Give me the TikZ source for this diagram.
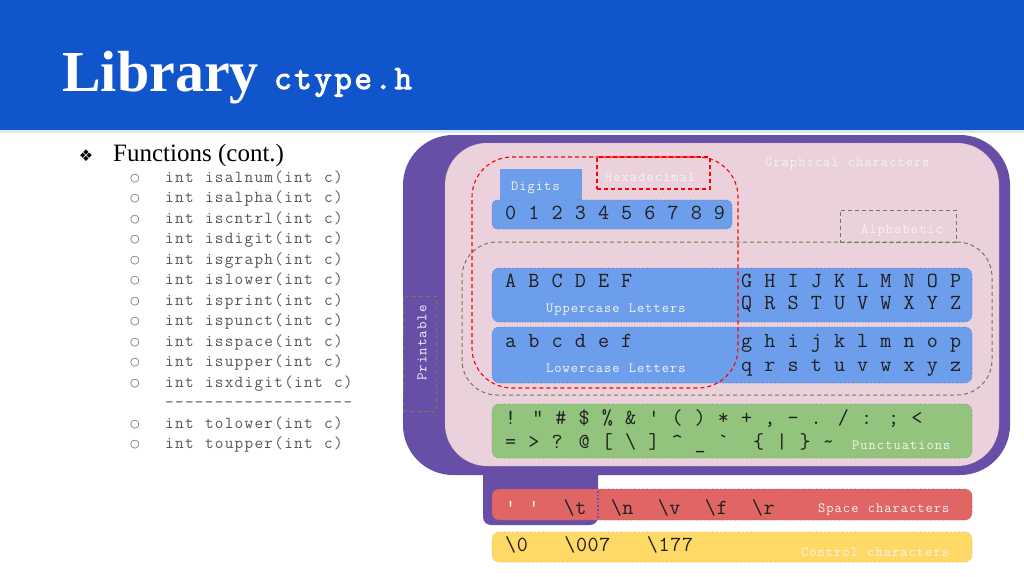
\documentclass[tikz,border=0pt]{standalone}
\usepackage{fontspec}
\setmainfont{Liberation Serif}
\newfontfamily\cour[LetterSpace=7.5,WordSpace={1.1429,0,0}]{Latin Modern Mono}
\newfontfamily\courbig[LetterSpace=2.92,WordSpace={1.0366,0,0}]{Latin Modern Mono}
\newfontfamily\courbf[LetterSpace=7.5,WordSpace={1.1429,0,0},FakeBold=3]{Latin Modern Mono}
\newfontfamily\dejavu{DejaVu Sans}
\definecolor{hdr}{HTML}{1155CC}
\definecolor{hdrline}{HTML}{DCE6F5}
\definecolor{purp}{HTML}{674EA7}
\definecolor{pinkb}{HTML}{EAD1DC}
\definecolor{blueb}{HTML}{6D9EEB}
\definecolor{greenb}{HTML}{93C47D}
\definecolor{redb}{HTML}{E06666}
\definecolor{yelb}{HTML}{FFD966}
\definecolor{lbl}{HTML}{F3F3F3}
\definecolor{ink}{HTML}{1F1F1F}
\definecolor{grayt}{HTML}{555555}
\definecolor{dgreen}{HTML}{6B7F4B}
\definecolor{redd}{HTML}{FF0000}
\newcommand\fs[1]{\fontsize{#1}{#1}\selectfont}
\begin{document}
\begin{tikzpicture}[x=1pt,y=-1pt,
  box/.style={inner sep=0pt, outer sep=0pt, minimum width=#1},
  bar/.style={box=480pt, fill=#1, draw=#1!75!black, dotted, line width=0.6pt, rounded corners=7pt},
  reddash/.style={draw=redd, dash pattern=on 4pt off 3pt, line width=1.1pt, inner sep=0pt},
  grndash/.style={draw=dgreen, dash pattern=on 4pt off 3pt, line width=1pt, inner sep=0pt},
  lab/.style={anchor=base west, inner sep=0pt, text=lbl, font=\cour\fs{14}},
  chars/.style={anchor=base west, inner sep=0pt, text=ink, font=\courbig\fs{21.5}},
  item/.style={anchor=base west, inner sep=0pt, text=grayt, font=\cour\fs{16.8}},
  bul/.style={anchor=base, inner sep=0pt, text=grayt, font=\dejavu\fs{11}},
]
\useasboundingbox (0,0) rectangle (1024,576);
% header
\fill[hdr] (0,0) rectangle (1024,130);
\fill[hdrline] (0,130) rectangle (1024,133);
\node[anchor=base west, inner sep=0pt, text=white, font=\bfseries\fs{58}] (title) at (62,91) {Library};
\node[anchor=base west, inner sep=0pt, text=white, font=\courbf\fs{34}] (titleh) at (274,89) {ctype.h};
% left list
\node[anchor=base, inner sep=0pt, text=black, font=\dejavu\fs{16}] (dia) at (86,161) {❖};
\node[anchor=base west, inner sep=0pt, text=black, font=\fs{25}] (fun) at (113,161) {Functions (cont.)};
\foreach \t [count=\i from 0] in {isalnum,isalpha,iscntrl,isdigit,isgraph,islower,isprint,ispunct,isspace,isupper,isxdigit}{
  \node[bul] (b\i) at (135,181+20.5*\i) {○};
  \node[item] (f\i) at (165,182+20.5*\i) {int \t(int c)};
}
\node[item] (dashes) at (165,407.5) {-{}-{}-{}-{}-{}-{}-{}-{}-{}-{}-{}-{}-{}-{}-{}-{}-{}-{}-};
\node[bul] (b11) at (135,427) {○};
\node[item] (tl) at (165,428) {int tolower(int c)};
\node[bul] (b12) at (135,447.5) {○};
\node[item] (tu) at (165,448.5) {int toupper(int c)};
% purple frame
\node[box=607pt, minimum height=340pt, fill=purp, rounded corners=50pt] (outer) at (706.5,305) {};
\node[box=115pt, minimum height=65pt, fill=purp, rounded corners=8pt] (tab) at (540.5,492.5) {};
\node[box=554pt, minimum height=323pt, fill=pinkb, draw=gray!60, dotted, line width=0.6pt, rounded corners=42pt] (graph) at (722,304.5) {};
\node[lab] (graphl) at (765,166) {Graphical characters};
% printable
\node[box=33pt, minimum height=115pt, grndash] (print) at (419.5,353.5) {};
\node[rotate=90, inner sep=0pt, text=lbl, font=\cour\fs{14.5}] (printl) at (422,343) {Printable};
% digits
\node[box=82pt, minimum height=31pt, fill=blueb] (digtab) at (541,184.5) {};
\node[lab] (digl) at (511,190.5) {Digits};
\node[bar=blueb, box=240pt, minimum height=29pt, rounded corners=5pt] (digbar) at (612,214.5) {};
\node[chars] (digits) at (505,219.5) {0 1 2 3 4 5 6 7 8 9};
% alphabetic group
\node[box=530pt, minimum height=153pt, grndash, rounded corners=35pt] (alphag) at (727,318.5) {};
\node[box=116pt, minimum height=32pt, grndash] (alphar) at (898,226) {};
\node[lab] (alphal) at (861,233) {Alphabetic};
% uppercase / lowercase
\node[bar=blueb, minimum height=54pt] (upbar) at (732,295) {};
\node[chars] (u1) at (505,287.5) {A B C D E F};
\node[chars] (u2) at (741,287.5) {G H I J K L M N O P};
\node[chars] (u3) at (741,309.5) {Q R S T U V W X Y Z};
\node[lab] (ul) at (546,312) {Uppercase Letters};
\node[bar=blueb, minimum height=56pt] (lobar) at (732,355) {};
\node[chars] (l1) at (505,347) {a b c d e f};
\node[chars] (l2) at (741,347) {g h i j k l m n o p};
\node[chars] (l3) at (741,371) {q r s t u v w x y z};
\node[lab] (ll) at (546,372) {Lowercase Letters};
% hexadecimal group (drawn over the bars)
\node[box=266pt, minimum height=231pt, reddash, rounded corners=40pt] (hexg) at (605,272.5) {};
\node[box=113pt, minimum height=32pt, reddash] (hexr) at (653.5,173) {};
\node[lab] (hexl) at (605,181) {Hexadecimal};
% punctuations
\node[bar=greenb, minimum height=54pt] (pubar) at (732,431) {};
\node[chars] (p1) at (505,424) {! " \# \$ \% \& ' ( ) * + , - . / : ; <};
\node[chars] (p2) at (505,448) {= > ? @ [ \textbackslash{} ] \textasciicircum{} \_ `\ \ \{ | \} \textasciitilde};
\node[lab] (pl) at (852,449) {Punctuations};
% space characters
\node[bar=redb, minimum height=31pt] (spbar) at (732,504.5) {};
\coordinate (d1) at (598,491);
\coordinate (d2) at (598,519);
\draw[purp, dotted, line width=1.6pt] (d1) -- (d2);
\node[chars] (sp) at (505,514) {{\color{lbl}'\ '}\ \ \textbackslash t\ \ \textbackslash n\ \ \textbackslash v\ \ \textbackslash f\ \ \textbackslash r};
\node[lab] (spl) at (818,512) {Space characters};
% control characters
\node[bar=yelb, minimum height=30pt] (ctbar) at (732,547) {};
\node[chars] (ct) at (505,551) {\textbackslash 0\ \ \ \textbackslash 007\ \ \ \textbackslash 177};
\node[lab] (ctl) at (801,556) {Control characters};
\end{tikzpicture}
\end{document}
